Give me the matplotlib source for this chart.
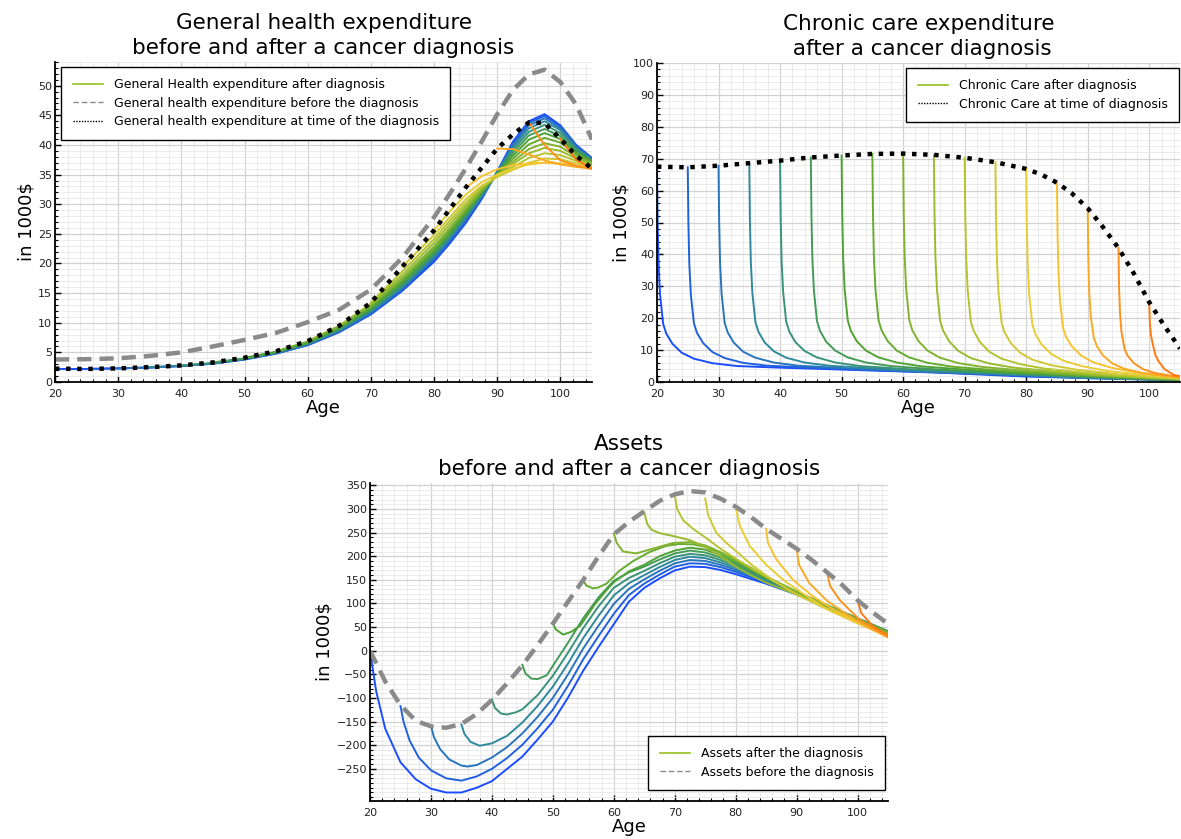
import numpy as np
import matplotlib.pyplot as plt
from matplotlib.colors import LinearSegmentedColormap
from matplotlib.lines import Line2D
from matplotlib.ticker import MultipleLocator, FixedLocator

# ages at which a cancer diagnosis happens (one coloured curve each)
diag_ages = [20, 25, 30, 35, 40, 45, 50, 55, 60, 65, 70, 75, 80, 85, 90, 95, 100]

age_grid = [20, 25, 30, 35, 40, 45, 50, 55, 60, 65, 70, 75, 80,
            82.5, 85, 87.5, 90, 92.5, 95, 97.5, 100, 102.5, 105]

# general health expenditure (1000$)
health_before = [3.8, 3.85, 4.0, 4.4, 5.0, 6.0, 7.1, 8.3, 10.1, 12.2, 15.6, 21.0, 27.8,
                 31.8, 36.0, 40.5, 45.2, 49.3, 51.9, 52.7, 50.6, 46.8, 40.9]
health_at_diag = [2.25, 2.2, 2.3, 2.5, 2.8, 3.3, 4.1, 5.2, 6.9, 9.5, 13.4, 19.5, 25.6,
                  29.2, 32.8, 36.1, 39.4, 41.8, 43.8, 43.7, 41.0, 38.2, 36.0]
# each row starts at its diagnosis age and runs to 105 on age_grid
health_after = [
    [2.2, 2.2, 2.3, 2.45, 2.7, 3.1, 3.8, 4.8, 6.2, 8.4, 11.4, 15.4, 20.3, 23.4, 26.8, 30.8, 35.5, 40.6, 44.0, 45.2, 43.3, 40.0, 37.8],
    [2.2, 2.3, 2.45, 2.7, 3.1, 3.8, 4.8, 6.25, 8.5, 11.5, 15.6, 20.6, 23.7, 27.1, 31.0, 35.5, 40.3, 43.7, 44.9, 43.1, 39.9, 37.7],
    [2.3, 2.45, 2.72, 3.12, 3.85, 4.85, 6.3, 8.6, 11.7, 15.8, 20.9, 24.0, 27.4, 31.2, 35.5, 40.0, 43.3, 44.5, 42.8, 39.7, 37.6],
    [2.5, 2.75, 3.15, 3.9, 4.9, 6.4, 8.7, 11.9, 16.0, 21.2, 24.3, 27.7, 31.4, 35.4, 39.6, 42.8, 44.0, 42.5, 39.5, 37.5],
    [2.8, 3.2, 3.95, 5.0, 6.5, 8.85, 12.1, 16.3, 21.5, 24.6, 28.0, 31.6, 35.3, 39.2, 42.2, 43.4, 42.0, 39.3, 37.4],
    [3.3, 4.0, 5.05, 6.6, 9.0, 12.3, 16.6, 21.8, 24.9, 28.3, 31.8, 35.2, 38.7, 41.6, 42.7, 41.5, 39.0, 37.3],
    [4.1, 5.1, 6.7, 9.15, 12.5, 16.9, 22.1, 25.2, 28.6, 32.0, 35.1, 38.2, 40.9, 42.0, 41.0, 38.7, 37.1],
    [5.2, 6.8, 9.3, 12.7, 17.2, 22.5, 25.6, 28.9, 32.2, 35.0, 37.7, 40.1, 41.2, 40.4, 38.4, 37.0],
    [6.9, 9.5, 13.0, 17.6, 22.9, 26.0, 29.2, 32.4, 34.9, 37.2, 39.3, 40.3, 39.7, 38.0, 36.9],
    [9.5, 13.2, 18.1, 23.5, 26.6, 29.7, 32.7, 34.8, 36.8, 38.6, 39.5, 39.0, 37.7, 36.7],
    [13.4, 18.7, 24.1, 27.2, 30.2, 32.9, 34.7, 36.3, 37.8, 38.6, 38.3, 37.3, 36.5],
    [19.5, 24.8, 27.8, 30.8, 33.1, 34.6, 35.8, 37.0, 37.7, 37.6, 36.9, 36.3],
    [25.6, 28.8, 31.6, 33.7, 35.0, 36.0, 36.7, 37.0, 36.9, 36.5, 36.1],
    [32.8, 34.7, 35.9, 36.6, 36.9, 37.0, 36.8, 36.4, 36.0],
    [39.4, 39.3, 38.4, 37.4, 36.7, 36.3, 36.0],
    [43.8, 40.0, 37.4, 36.5, 36.0],
    [41.0, 37.5, 36.0],
]

# chronic care expenditure (1000$)
chronic_at_diag = [67.5, 67.3, 67.8, 68.6, 69.4, 70.4, 71.0, 71.5, 71.6, 71.2, 70.3, 68.9, 66.8,
                   65.0, 62.5, 59.0, 54.5, 48.5, 42.0, 34.0, 25.0, 17.5, 10.5]
# years since diagnosis
chronic_t = [0, 0.1, 0.25, 0.5, 1, 1.5, 2.5, 4, 6, 9, 13, 20, 30, 45, 60, 85]
chronic_after = [
    [67.5, 50, 37, 27.3, 18.2, 15.2, 12.0, 9.2, 7.3, 5.9, 5.0, 4.5, 3.9, 3.0, 1.7, 0.5],
    [67.3, 50, 37, 27.4, 18.4, 15.4, 12.2, 9.4, 7.5, 6.0, 5.1, 4.5, 3.7, 2.7, 1.6, 0.4],
    [67.8, 50.3, 37.3, 27.6, 18.5, 15.5, 12.3, 9.5, 7.6, 6.1, 5.1, 4.4, 3.5, 2.4, 1.2, 0.3],
    [68.6, 51, 37.7, 27.9, 18.7, 15.7, 12.4, 9.6, 7.6, 6.1, 5.1, 4.3, 3.3, 2.2, 1.0, 0.2],
    [69.4, 51.5, 38.1, 28.2, 18.9, 15.8, 12.5, 9.7, 7.7, 6.1, 5.0, 4.1, 3.2, 2.0, 0.8, 0.2],
    [70.4, 52.2, 38.7, 28.6, 19.1, 16.0, 12.6, 9.8, 7.7, 6.1, 5.0, 4.0, 3.0, 1.7, 0.6],
    [71.0, 52.7, 39.0, 28.9, 19.3, 16.1, 12.7, 9.8, 7.7, 6.1, 4.9, 3.9, 2.8, 1.4, 0.5],
    [71.5, 53, 39.3, 29.1, 19.4, 16.2, 12.8, 9.8, 7.7, 6.0, 4.8, 3.7, 2.5, 1.1, 0.4],
    [71.6, 53.1, 39.4, 29.1, 19.4, 16.2, 12.8, 9.8, 7.6, 5.9, 4.7, 3.5, 2.2, 0.8],
    [71.2, 52.8, 39.2, 29.0, 19.3, 16.1, 12.7, 9.7, 7.5, 5.8, 4.5, 3.2, 1.8, 0.6],
    [70.3, 52.1, 38.7, 28.6, 19.0, 15.9, 12.5, 9.5, 7.3, 5.6, 4.2, 2.8, 1.4, 0.4],
    [68.9, 51.1, 37.9, 28.0, 18.6, 15.5, 12.2, 9.2, 7.0, 5.3, 3.9, 2.4, 1.0],
    [66.8, 49.5, 36.7, 27.2, 18.1, 15.0, 11.8, 8.9, 6.7, 5.0, 3.5, 2.0, 0.8],
    [62.5, 46.3, 34.4, 25.4, 16.9, 14.0, 11.0, 8.2, 6.1, 4.4, 3.0, 1.5],
    [54.5, 38.5, 28.0, 20.5, 13.8, 11.2, 8.3, 5.8, 4.1, 2.8, 1.8, 0.7],
    [42.0, 29.5, 21.5, 15.5, 10.3, 8.2, 5.9, 4.0, 2.8, 1.8, 1.2],
    [25.0, 18.5, 15.0, 12.5, 8.5, 6.5, 4.0, 2.2, 1.5],
]

# assets (1000$)
asset_grid = [20, 22.5, 25, 27.5, 30, 32.5, 35, 37.5, 40, 42.5, 45, 47.5, 50, 52.5, 55, 57.5,
              60, 62.5, 65, 67.5, 70, 72.5, 75, 77.5, 80, 82.5, 85, 87.5, 90, 92.5, 95,
              97.5, 100, 102.5, 105]
assets_before = [0, -65, -115, -148, -160, -163, -155, -134, -104, -69, -31, 12, 57, 104,
                 150, 200, 246, 273, 295, 317, 331, 338, 335, 322, 305, 283, 258, 237, 216,
                 192, 166, 139, 107, 81, 57]
# (age, assets) after a diagnosis at each of diag_ages
assets_after = [
    [(20, 0), (21, -85), (22.5, -165), (25, -236), (27.5, -272), (30, -292), (32.5, -300),
     (35, -300), (37.5, -290), (40, -276), (42.5, -250), (45, -224), (47.5, -188), (50, -150),
     (52.5, -99), (55, -42), (57.5, 8), (60, 56), (62.5, 104), (65, 133), (67.5, 153),
     (70, 170), (72.5, 178), (75, 177), (77.5, 171), (80, 162), (82.5, 152), (85, 142),
     (90, 119), (95, 93), (100, 66), (105, 40)],
    [(25, -117), (25.5, -150), (26.5, -190), (28, -226), (30, -253), (32.5, -270), (35, -275),
     (37.5, -266), (40, -250), (42.5, -227), (45, -199), (47.5, -164), (50, -125), (52.5, -74),
     (55, -18), (57.5, 31), (60, 78), (62.5, 118), (65, 142), (67.5, 161), (70, 178),
     (72.5, 185), (75, 184), (77.5, 177), (80, 167), (82.5, 156), (85, 145), (90, 121),
     (95, 94), (100, 67), (105, 40)],
    [(30, -159), (30.5, -183), (31.5, -208), (33, -230), (35, -243), (36, -245), (37.5, -242),
     (40, -226), (42.5, -204), (45, -175), (47.5, -140), (50, -100), (52.5, -50), (55, 5),
     (57.5, 53), (60, 99), (62.5, 131), (65, 151), (67.5, 169), (70, 185), (72.5, 192),
     (75, 190), (77.5, 182), (80, 171), (82.5, 159), (85, 147), (90, 122), (95, 95),
     (100, 68), (105, 41)],
    [(35, -156), (35.5, -176), (36.5, -193), (38, -201), (40, -196), (42.5, -180), (45, -152),
     (47.5, -117), (50, -76), (52.5, -27), (55, 27), (57.5, 74), (60, 117), (62.5, 143),
     (65, 160), (67.5, 177), (70, 192), (72.5, 199), (75, 196), (77.5, 187), (80, 175),
     (82.5, 162), (85, 149), (90, 123), (95, 96), (100, 68), (105, 41)],
    [(40, -103), (40.5, -121), (41.5, -133), (42.5, -135), (44, -130), (45, -124), (47.5, -94),
     (50, -53), (52.5, -4), (55, 48), (57.5, 94), (60, 133), (62.5, 154), (65, 169),
     (67.5, 185), (70, 199), (72.5, 205), (75, 202), (77.5, 192), (80, 179), (82.5, 165),
     (85, 151), (90, 124), (95, 96), (100, 68), (105, 41)],
    [(45, -30), (45.5, -48), (46.5, -59), (47.5, -60), (49, -52), (50, -32), (52.5, 17),
     (55, 69), (57.5, 113), (60, 148), (62.5, 166), (65, 178), (67.5, 193), (70, 206),
     (72.5, 212), (75, 208), (77.5, 197), (80, 183), (82.5, 168), (85, 153), (90, 124),
     (95, 96), (100, 68), (105, 41)],
    [(50, 58), (50.5, 45), (51.7, 34), (53, 40), (54.5, 53), (57, 100), (58.8, 128), (60, 145),
     (62.5, 168), (65, 182), (67.5, 200), (70, 212), (72.5, 218), (75, 214), (77.5, 202),
     (80, 187), (82.5, 171), (85, 155), (90, 125), (95, 96), (100, 68), (105, 40)],
    [(55, 149), (55.5, 138), (56.6, 132), (57.5, 134), (58.8, 142), (61, 170), (63.2, 190),
     (65.9, 209), (68.6, 222), (70.8, 226), (73, 225), (75, 220), (77.5, 207), (80, 191),
     (82.5, 174), (85, 156), (90, 125), (95, 95), (100, 67), (105, 39)],
    [(60, 248), (60.5, 228), (61.5, 210), (63.7, 206), (66.4, 216), (69.7, 228), (72.5, 230),
     (75, 223), (77.5, 209), (80, 193), (82.5, 176), (85, 157), (90, 125), (95, 95),
     (100, 66), (105, 38)],
    [(65, 293), (65.5, 268), (66.2, 256), (67.5, 249), (70, 242), (72.5, 234), (75, 220),
     (77.5, 200), (80, 178), (82.5, 160), (85, 144), (90, 119), (95, 90), (100, 62), (105, 34)],
    [(70, 330), (70.4, 300), (71.4, 276), (73, 258), (75, 240), (77.5, 216), (80, 195),
     (82.5, 175), (85, 157), (87.5, 138), (90, 120), (95, 89), (100, 60), (105, 32)],
    [(75, 322), (75.5, 287), (76.8, 250), (78.5, 228), (80.5, 206), (82.8, 180), (86, 150),
     (90, 119), (95, 88), (100, 59), (105, 31)],
    [(80, 304), (80.7, 264), (82.3, 222), (85, 182), (88, 148), (91.5, 117), (95, 88),
     (100, 58), (105, 30)],
    [(85, 258), (85.3, 228), (86.7, 193), (89.4, 150), (92.7, 115), (96, 88), (100, 61),
     (105, 29)],
    [(90, 216), (90.4, 182), (92.1, 143), (94.9, 107), (98, 79), (101, 55), (105, 28)],
    [(95, 166), (95.5, 137), (97.1, 107), (100.3, 66), (102.5, 48), (105, 30)],
    [(100, 107), (100.6, 80), (102.5, 52), (105, 33)],
]

cmap = LinearSegmentedColormap.from_list(
    'diag', [(0.0, '#1a4dff'), (0.19, '#2f8a9c'), (0.38, '#4fa332'),
             (0.63, '#b5c42f'), (0.78, '#f5cf36'), (1.0, '#ff7a12')])
colors = [cmap(i / (len(diag_ages) - 1)) for i in range(len(diag_ages))]
after_color = '#93c01f'
before_kw = dict(color='#8a8a8a', lw=3.2, dashes=(3.2, 1.8))
atdiag_kw = dict(color='black', lw=3.2, linestyle=(0, (1, 1.5)))

fig = plt.figure(figsize=(11.81, 8.39), dpi=100)
W, H = 1181, 839
ax1 = fig.add_axes([55 / W, 1 - 382 / H, 537 / W, 320 / H])
ax2 = fig.add_axes([657 / W, 1 - 382 / H, 523 / W, 319 / H])
ax3 = fig.add_axes([370 / W, 1 - 801 / H, 518 / W, 318 / H])


def style(ax, title, ylim, yminor, yticks):
    ax.set_xlim(20, 105)
    ax.set_ylim(*ylim)
    ax.xaxis.set_major_locator(FixedLocator(range(20, 101, 10)))
    ax.xaxis.set_minor_locator(MultipleLocator(2))
    ax.yaxis.set_major_locator(FixedLocator(yticks))
    ax.yaxis.set_minor_locator(MultipleLocator(yminor))
    ax.grid(which='major', color='#d2d2d2', lw=0.9)
    ax.grid(which='minor', color='#e8e8e8', lw=0.6)
    ax.set_axisbelow(True)
    for s in ['top', 'right']:
        ax.spines[s].set_visible(False)
    for s in ['left', 'bottom']:
        ax.spines[s].set_linewidth(1.3)
    ax.tick_params(which='both', direction='in', top=False, right=False, labelsize=8,
                   labelcolor='#222222')
    ax.tick_params(axis='y', pad=2)
    ax.tick_params(axis='x', pad=5)
    ax.tick_params(which='major', length=4, width=1)
    ax.tick_params(which='minor', length=2.5, width=0.8)
    ax.set_xlabel('Age', fontsize=13, labelpad=0)
    ax.set_ylabel(r'in 1000\$', fontsize=13, labelpad=2)
    ax.set_title(title, fontsize=15.5, pad=6, linespacing=1.3)


def legend(ax, labels, handles, loc, anchor):
    leg = ax.legend(handles, labels, loc=loc, bbox_to_anchor=anchor, borderaxespad=0,
                    fontsize=9, handlelength=2.4, handletextpad=0.9, labelspacing=0.45,
                    borderpad=0.9, fancybox=False, framealpha=1, edgecolor='black')
    leg.get_frame().set_linewidth(1.0)


# general health
for c, row in zip(colors, health_after):
    ax1.plot(age_grid[len(age_grid) - len(row):], row, color=c, lw=1.4)
ax1.plot(age_grid, health_before, **before_kw)
ax1.plot(age_grid, health_at_diag, **atdiag_kw)
style(ax1, 'General health expenditure\nbefore and after a cancer diagnosis',
      (0, 54), 1, range(0, 51, 5))
legend(ax1, ['General Health expenditure after diagnosis',
             'General health expenditure before the diagnosis',
             'General health expenditure at time of the diagnosis'],
       [Line2D([], [], color=after_color, lw=1.2),
        Line2D([], [], color='#8a8a8a', lw=1.0, dashes=(4, 2)),
        Line2D([], [], color='black', lw=1.0, linestyle=(0, (1, 1)))],
       'upper left', (0.012, 0.985))

# chronic care
for d, c, row in zip(diag_ages, colors, chronic_after):
    ax2.plot([d + t for t in chronic_t[:len(row)]], row, color=c, lw=1.4)
ax2.plot(age_grid, chronic_at_diag, **atdiag_kw)
style(ax2, 'Chronic care expenditure\n after a cancer diagnosis',
      (0, 100), 2, range(0, 101, 10))
legend(ax2, ['Chronic Care after diagnosis', 'Chronic Care at time of diagnosis'],
       [Line2D([], [], color=after_color, lw=1.2),
        Line2D([], [], color='black', lw=1.0, linestyle=(0, (1, 1)))],
       'upper right', (0.998, 0.985))

# assets
for c, pts in zip(colors, assets_after):
    xs, ys = zip(*pts)
    ax3.plot(xs, ys, color=c, lw=1.4)
ax3.plot(asset_grid, assets_before, **before_kw)
style(ax3, 'Assets\nbefore and after a cancer diagnosis',
      (-318, 355), 10, range(-250, 351, 50))
legend(ax3, ['Assets after the diagnosis', 'Assets before the diagnosis'],
       [Line2D([], [], color=after_color, lw=1.2),
        Line2D([], [], color='#8a8a8a', lw=1.0, dashes=(4, 2))],
       'lower right', (0.994, 0.035))

fig.savefig('out.png', dpi=100)
